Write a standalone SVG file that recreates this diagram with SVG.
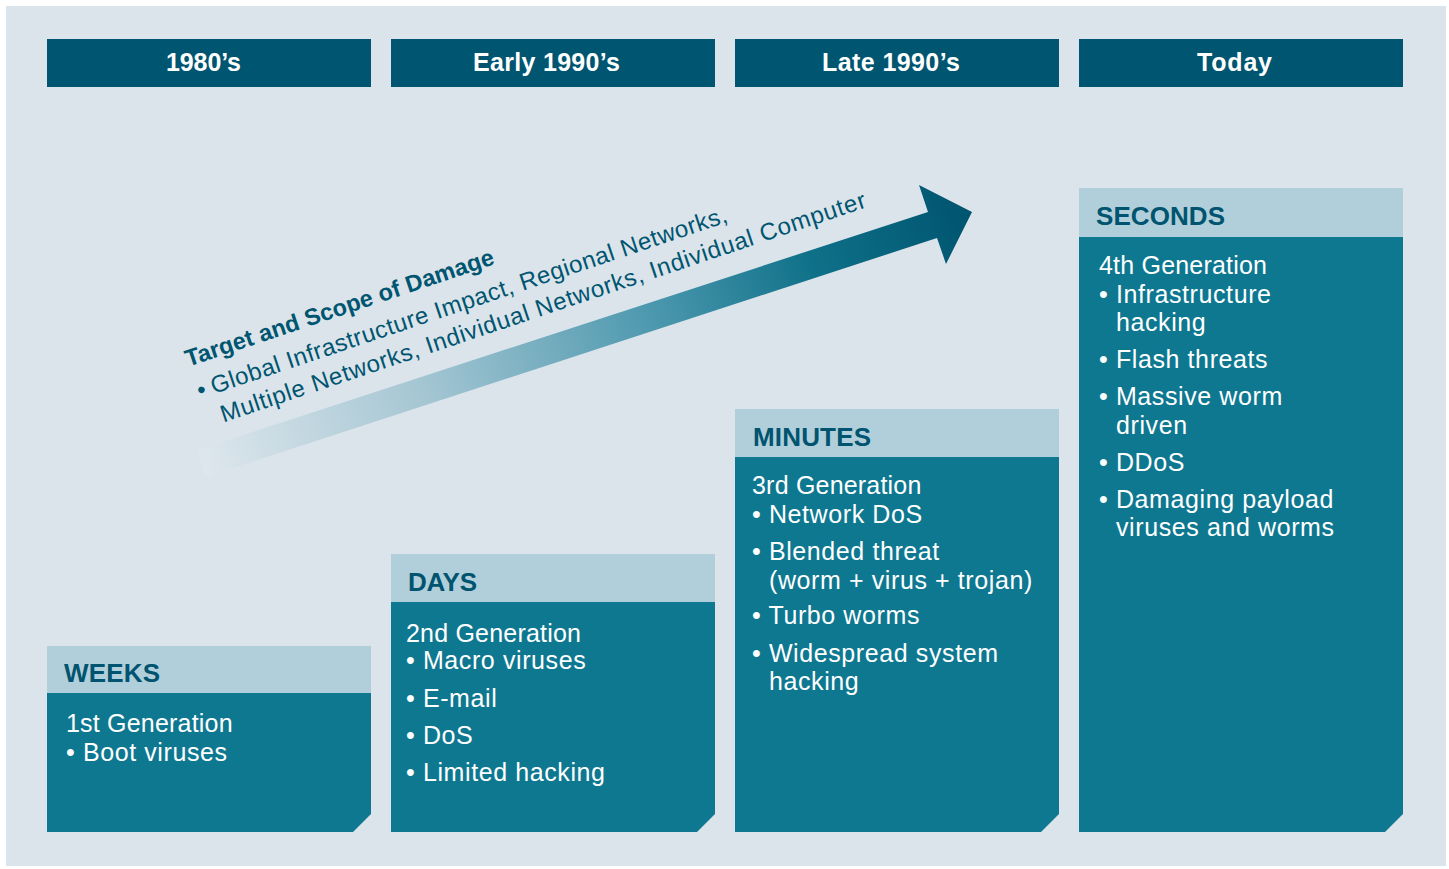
<svg xmlns="http://www.w3.org/2000/svg" width="1449" height="869" viewBox="0 0 1449 869">
  <defs>
    <linearGradient id="shaftFade" gradientUnits="userSpaceOnUse" x1="200" y1="470" x2="965" y2="215">
      <stop offset="0" stop-color="#dfe7ed"/>
      <stop offset="0.3" stop-color="#a3c5d2"/>
      <stop offset="0.6" stop-color="#4a97ad"/>
      <stop offset="0.8" stop-color="#0f7189"/>
      <stop offset="1" stop-color="#005570"/>
    </linearGradient>
    <style>
      .era { fill: #005570; }
      .era-text { font-family: "Liberation Sans", Arial, sans-serif; font-weight: bold; font-size: 25px; fill: #ffffff; }
      .cap { fill: #b1cfda; }
      .cap-text { font-family: "Liberation Sans", Arial, sans-serif; font-weight: bold; font-size: 26px; fill: #00546f; }
      .body { fill: #0e7891; }
      .body-text { font-family: "Liberation Sans", Arial, sans-serif; font-size: 25px; fill: #ffffff; letter-spacing: 0.6px; }
      .gen { letter-spacing: 0.2px; }
      .scope-head { font-family: "Liberation Sans", Arial, sans-serif; font-weight: bold; font-size: 23.5px; fill: #005570; }
      .scope-text { font-family: "Liberation Sans", Arial, sans-serif; font-size: 24px; fill: #005570; }
    </style>
  </defs>

  <!-- page background -->
  <rect x="0" y="0" width="1449" height="869" fill="#ffffff"/>
  <rect x="6" y="6" width="1440" height="860" fill="#dce4eb"/>

  <!-- era header bars -->
  <g id="era-1980s">
    <rect class="era" x="47" y="39" width="324" height="48"/>
    <text class="era-text" x="166" y="71" textLength="75">1980’s</text>
  </g>
  <g id="era-early-1990s">
    <rect class="era" x="391" y="39" width="324" height="48"/>
    <text class="era-text" x="473" y="71" textLength="147">Early 1990’s</text>
  </g>
  <g id="era-late-1990s">
    <rect class="era" x="735" y="39" width="324" height="48"/>
    <text class="era-text" x="822" y="71" textLength="138">Late 1990’s</text>
  </g>
  <g id="era-today">
    <rect class="era" x="1079" y="39" width="324" height="48"/>
    <text class="era-text" x="1197" y="71" textLength="75">Today</text>
  </g>

  <!-- rising arrow: target and scope of damage -->
  <g id="scope-arrow">
    <polygon points="197,450 928,212 919,185 972,212 946,264 937,238 206,477" fill="url(#shaftFade)"/>
    <g transform="translate(188.3,366.7) rotate(-18.5)">
      <text class="scope-head" x="0" y="0" textLength="324">Target and Scope of Damage</text>
      <text class="scope-text" x="1" y="34">•</text>
      <text class="scope-text" x="15.5" y="34" textLength="543">Global Infrastructure Impact, Regional Networks,</text>
      <text class="scope-text" x="15.8" y="64" textLength="679">Multiple Networks, Individual Networks, Individual Computer</text>
    </g>
  </g>

  <!-- WEEKS -->
  <g id="stage-weeks">
    <rect class="cap" x="47" y="646" width="324" height="47"/>
    <polygon class="body" points="47,693 371,693 371,814 353,832 47,832"/>
    <text class="cap-text" x="64" y="682" textLength="96">WEEKS</text>
    <text class="body-text gen" x="66" y="732">1st Generation</text>
    <text class="body-text" x="66" y="761">• Boot viruses</text>
  </g>

  <!-- DAYS -->
  <g id="stage-days">
    <rect class="cap" x="391" y="554" width="324" height="48"/>
    <polygon class="body" points="391,602 715,602 715,814 697,832 391,832"/>
    <text class="cap-text" x="408" y="591" textLength="69">DAYS</text>
    <text class="body-text gen" x="406" y="642">2nd Generation</text>
    <text class="body-text" x="406" y="669">• Macro viruses</text>
    <text class="body-text" x="406" y="706.5">• E-mail</text>
    <text class="body-text" x="406" y="743.5">• DoS</text>
    <text class="body-text" x="406" y="780.5">• Limited hacking</text>
  </g>

  <!-- MINUTES -->
  <g id="stage-minutes">
    <rect class="cap" x="735" y="409" width="324" height="48"/>
    <polygon class="body" points="735,457 1059,457 1059,814 1041,832 735,832"/>
    <text class="cap-text" x="753" y="446" textLength="118">MINUTES</text>
    <text class="body-text gen" x="752" y="494">3rd Generation</text>
    <text class="body-text" x="752" y="522.5">• Network DoS</text>
    <text class="body-text" x="752" y="560">• Blended threat</text>
    <text class="body-text" x="769" y="588.5">(worm + virus + trojan)</text>
    <text class="body-text" x="752" y="624">• Turbo worms</text>
    <text class="body-text" x="752" y="661.5">• Widespread system</text>
    <text class="body-text" x="769" y="690">hacking</text>
  </g>

  <!-- SECONDS -->
  <g id="stage-seconds">
    <rect class="cap" x="1079" y="188" width="324" height="49"/>
    <polygon class="body" points="1079,237 1403,237 1403,814 1385,832 1079,832"/>
    <text class="cap-text" x="1096" y="225" textLength="129">SECONDS</text>
    <text class="body-text gen" x="1099" y="274">4th Generation</text>
    <text class="body-text" x="1099" y="303">• Infrastructure</text>
    <text class="body-text" x="1116" y="331">hacking</text>
    <text class="body-text" x="1099" y="368">• Flash threats</text>
    <text class="body-text" x="1099" y="405">• Massive worm</text>
    <text class="body-text" x="1116" y="434">driven</text>
    <text class="body-text" x="1099" y="471">• DDoS</text>
    <text class="body-text" x="1099" y="507.5">• Damaging payload</text>
    <text class="body-text" x="1116" y="536">viruses and worms</text>
  </g>
</svg>
